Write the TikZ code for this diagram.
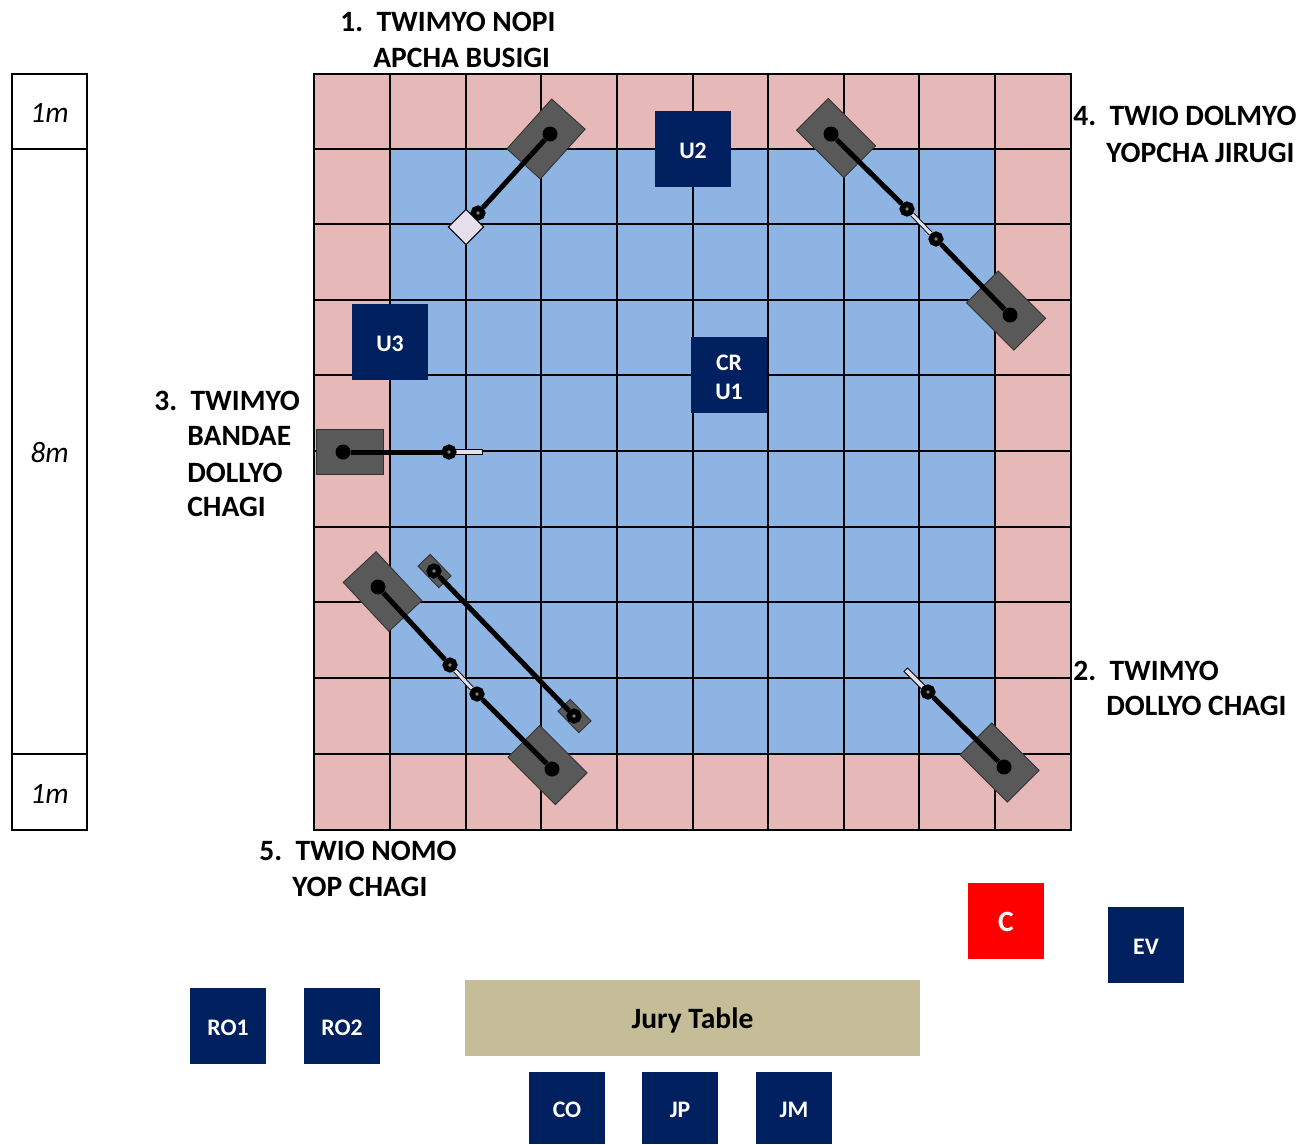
\documentclass[tikz,border=0pt]{standalone}
\usepackage{fontspec}
\setmainfont{Carlito}
\usetikzlibrary{positioning}

\definecolor{matpink}{HTML}{E6B8B7}
\definecolor{matblue}{HTML}{8EB4E3}
\definecolor{navybox}{HTML}{002060}
\definecolor{bodygray}{HTML}{595959}
\definecolor{jurytan}{HTML}{C4BD97}
\definecolor{lilac}{HTML}{E6E0EC}

\tikzset{
  official/.style={fill=navybox, text=white, inner sep=0pt, minimum size=1.52cm, align=center, text height=11pt, font=\fontsize{13.5}{16.5}\selectfont\bfseries},
  scalecell/.style={draw=black, line width=0.8pt, fill=white, inner sep=0pt, minimum width=1.5cm, text height=13pt, font=\fontsize{16.8}{20}\selectfont\itshape},
  steplabel/.style={anchor=base west, inner sep=0pt, font=\fontsize{16.8}{20}\selectfont\bfseries},
  bodyblock/.style={draw=black!80, line width=0.5pt, fill=bodygray, inner sep=0pt, minimum width=1.34cm, minimum height=0.9cm},
  padblock/.style={draw=black!80, line width=0.5pt, fill=bodygray, inner sep=0pt, minimum width=0.6cm, minimum height=0.34cm},
  headdot/.style={circle, fill=black, inner sep=0pt, minimum size=0.3cm},
  joint/.style={circle, draw=black, fill=gray, line width=0.11cm, inner sep=0pt, minimum size=0.19cm},
  padjoint/.style={joint, fill=gray},
  limb/.style={line width=0.1cm, draw=black},
  shinbar/.style={draw=black, line width=0.5pt, fill=lilac, inner sep=0pt, minimum width=0.64cm, minimum height=0.1cm},
  shinlink/.style={draw=black, line width=0.5pt, double=lilac, double distance=0.06cm}
}

\begin{document}
\begin{tikzpicture}[x=0.02cm, y=-0.02cm]
\useasboundingbox (0,0) rectangle (1308,1144);

% Mat
\fill[matpink] (314,74) rectangle (1071,830);
\fill[matblue] (390,149) rectangle (995,754);
\foreach \x in {390,466,541,617,693,768,844,919,995}
    \draw[line width=1pt] (\x,74) -- (\x,830);
\foreach \y in {149,224,300,375,451,527,602,678,754}
    \draw[line width=0.8pt] (314,\y) -- (1071,\y);
\draw[line width=1.2pt] (314,74) rectangle (1071,830);

% Scale
\node[scalecell, minimum height=1.5cm] (scaletop) at (49.5,111.5) {1m};
\node[scalecell, minimum height=12.1cm] (scalemid) at (49.5,451.5) {8m};
\node[scalecell, minimum height=1.52cm] (scalebot) at (49.5,792) {1m};

% Officials
\node[official] (uTwo) at (693,149) {U2};
\node[official] (uThree) at (390,342) {U3};
\node[official, text height=] (uOne) at (729,375) {\rule{0pt}{11pt}CR\\U1};
\node[official, text height=12pt, fill=red, font=\fontsize{16.8}{20}\selectfont\bfseries] (coach) at (1006,921) {C};
\node[official] (ev) at (1146,945) {EV};
\node[official] (roOne) at (228,1026) {RO1};
\node[official] (roTwo) at (342,1026) {RO2};
\node[fill=jurytan, inner sep=0pt, minimum width=9.1cm, minimum height=1.52cm, text height=15pt, font=\fontsize{16.8}{20}\selectfont\bfseries] (jury) at (692.5,1018) {Jury Table};
\node[official, minimum height=1.44cm] (co) at (567,1108) {CO};
\node[official, minimum height=1.44cm] (jp) at (680,1108) {JP};
\node[official, minimum height=1.44cm] (jm) at (794,1108) {JM};

% 1. Twimyo nopi apcha busigi
\node[bodyblock, rotate=48] (oneBody) at (546,139) {};
\node[headdot] (oneHead) at (550,134) {};
\node[joint] (oneJoint) at (478,213) {};
\draw[limb] (oneHead) -- (oneJoint);
\node[draw=black, line width=0.6pt, fill=lilac, rotate=45, inner sep=0pt, minimum size=0.5cm] (oneTarget) at (466,227) {};

% 4. Twio dolmyo yopcha jirugi
\node[bodyblock, rotate=-45] (fourBodyA) at (836,138) {};
\node[bodyblock, rotate=-45] (fourBodyB) at (1006,310.5) {};
\node[headdot] (fourHeadA) at (831,134) {};
\node[headdot] (fourHeadB) at (1010,315) {};
\node[joint] (fourJointA) at (907,209) {};
\node[joint] (fourJointB) at (936,239) {};
\draw[limb] (fourHeadA) -- (fourJointA);
\draw[limb] (fourHeadB) -- (fourJointB);
\draw[shinlink] (fourJointA) -- (fourJointB);

% 3. Twimyo bandae dollyo chagi
\node[bodyblock] (threeBody) at (349.5,451.5) {};
\node[headdot] (threeHead) at (343,452) {};
\node[shinbar] (threeBar) at (466,452) {};
\node[joint] (threeJoint) at (449,452) {};
\draw[limb] (threeHead) -- (threeJoint);

% 5. Twio nomo yop chagi
\node[bodyblock, rotate=-47] (fiveBodyA) at (382.5,591.5) {};
\node[bodyblock, rotate=-45] (fiveBodyB) at (547.5,765) {};
\node[headdot] (fiveHeadA) at (378,587) {};
\node[headdot] (fiveHeadB) at (552,769) {};
\node[joint] (fiveJointA) at (450,665) {};
\node[joint] (fiveJointB) at (477,694) {};
\draw[limb] (fiveHeadA) -- (fiveJointA);
\draw[limb] (fiveHeadB) -- (fiveJointB);
\draw[shinlink] (fiveJointA) -- (fiveJointB);
\node[padblock, rotate=-46] (padA) at (434.5,571) {};
\node[padblock, rotate=-46] (padB) at (574.5,716) {};
\node[padjoint] (padJointA) at (434,571) {};
\node[padjoint] (padJointB) at (574,716) {};
\draw[limb] (padJointA) -- (padJointB);

% 2. Twimyo dollyo chagi
\node[bodyblock, rotate=-45] (twoBody) at (999.5,762.5) {};
\node[headdot] (twoHead) at (1004,767) {};
\node[shinbar, rotate=-45] (twoBar) at (917,681) {};
\node[joint] (twoJoint) at (928,692) {};
\draw[limb] (twoHead) -- (twoJoint);

% Labels
\node[steplabel] (oneLabelA) at (340,31) {1.\ \ TWIMYO NOPI};
\node[steplabel] (oneLabelB) at (373,67) {APCHA BUSIGI};
\node[steplabel] (fourLabelA) at (1073,125) {4.\ \ TWIO DOLMYO};
\node[steplabel] (fourLabelB) at (1106,162) {YOPCHA JIRUGI};
\node[steplabel] (threeLabelA) at (154,410) {3.\ \ TWIMYO};
\node[steplabel] (threeLabelB) at (187,445) {BANDAE};
\node[steplabel] (threeLabelC) at (187,482) {DOLLYO};
\node[steplabel] (threeLabelD) at (187,516) {CHAGI};
\node[steplabel] (twoLabelA) at (1073,680) {2.\ \ TWIMYO};
\node[steplabel] (twoLabelB) at (1106,715) {DOLLYO CHAGI};
\node[steplabel] (fiveLabelA) at (259,860) {5.\ \ TWIO NOMO};
\node[steplabel] (fiveLabelB) at (292,896) {YOP CHAGI};
\end{tikzpicture}
\end{document}
